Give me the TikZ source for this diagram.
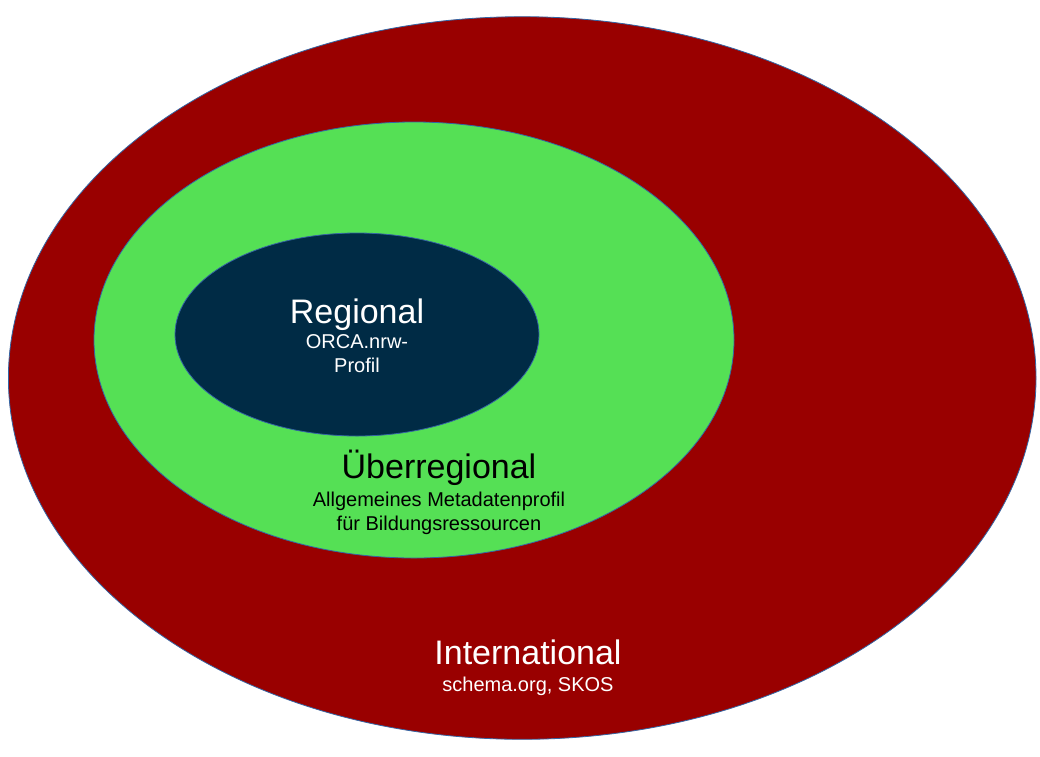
\documentclass[tikz,border=0pt]{standalone}
\usepackage{fontspec}
\setmainfont{Liberation Sans}
\definecolor{outerred}{HTML}{990000}
\definecolor{midgreen}{HTML}{55E055}
\definecolor{innerdark}{HTML}{002B45}
\definecolor{edgeblue}{HTML}{3465A4}
\tikzset{
  ring/.style={draw=edgeblue, line width=0.8pt},
  bigtxt/.style={anchor=base, inner sep=0pt, font=\fontsize{34}{40}\selectfont},
  smalltxt/.style={anchor=base, inner sep=0pt, font=\fontsize{20}{24}\selectfont},
}
\begin{document}
\begin{tikzpicture}[x=1pt,y=-1pt]
\useasboundingbox (0,0) rectangle (1040,756);
\fill[white] (0,0) rectangle (1040,756);
\path[ring, fill=outerred] (522.2,378) ellipse [x radius=513.8, y radius=361.3];
\path[ring, fill=midgreen] (414,340) ellipse [x radius=320, y radius=218];
\path[ring, fill=innerdark] (357,334.5) ellipse [x radius=182, y radius=101.5];
\node[bigtxt, white] (regional) at (357,323) {Regional};
\node[smalltxt, white] (orca) at (357,348) {ORCA.nrw-};
\node[smalltxt, white] (profil) at (357,372) {Profil};
\node[bigtxt, black] (ueber) at (439,478.3) {Überregional};
\node[smalltxt, black] (allg) at (439,506.7) {Allgemeines Metadatenprofil};
\node[smalltxt, black] (fuer) at (439,530) {für Bildungsressourcen};
\node[bigtxt, white] (intl) at (528,664) {International};
\node[smalltxt, white] (schema) at (528,691) {schema.org, SKOS};
\end{tikzpicture}
\end{document}
